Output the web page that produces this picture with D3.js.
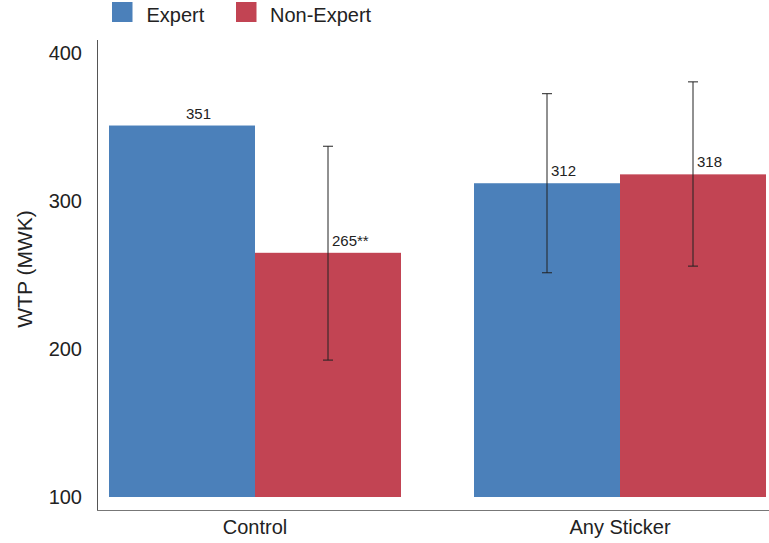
<!DOCTYPE html>
<html><head><meta charset="utf-8">
<script src="https://cdn.jsdelivr.net/npm/d3@7"></script>
<style>body{margin:0;background:#fff}svg{display:block;font-family:"Liberation Sans",Arial,sans-serif}</style>
</head><body><svg id="c" width="769" height="543"></svg>
<script>
const categories = ["Control", "Any Sticker"];
const groups = ["Expert", "Non-Expert"];
const expertMeans = [351, 312];
const nonExpertMeans = [265, 318];
const expertLow = [null, 251.5];
const expertHigh = [null, 372.5];
const nonExpertLow = [192.5, 256];
const nonExpertHigh = [337, 380.5];
const valueLabels = [["351", "312"], ["265**", "318"]];
const yTicks = [100, 200, 300, 400];
const colors = ["#4b80ba", "#c24453"];

const svg = d3.select("#c");
const y = d3.scaleLinear().domain([100, 400]).range([497, 53]);
const x0 = d3.scaleBand().domain(categories).range([72.5, 802.5]).paddingInner(0.2).paddingOuter(0.1);
const x1 = d3.scaleBand().domain(groups).range([0, x0.bandwidth()]);

const data = [];
categories.forEach((c, i) => {
  data.push({c, g: groups[0], v: expertMeans[i], lo: expertLow[i], hi: expertHigh[i], lab: valueLabels[0][i]});
  data.push({c, g: groups[1], v: nonExpertMeans[i], lo: nonExpertLow[i], hi: nonExpertHigh[i], lab: valueLabels[1][i]});
});

// axes lines
svg.append("line").attr("x1", 97.5).attr("x2", 97.5).attr("y1", 40).attr("y2", 510.5).attr("stroke", "#555").attr("stroke-width", 1);
svg.append("line").attr("x1", 97).attr("x2", 769).attr("y1", 510.5).attr("y2", 510.5).attr("stroke", "#777").attr("stroke-width", 1.2);

// y tick labels
const yAxis = d3.axisLeft(y).tickValues(yTicks).tickSize(0).tickPadding(0);
const ga = svg.append("g").attr("transform", "translate(82,0)").call(yAxis);
ga.select(".domain").remove();
ga.selectAll("text").attr("font-size", 20).attr("fill", "#222").attr("font-family", "Liberation Sans, Arial, sans-serif");

// y label
svg.append("text").attr("transform", "translate(32,269) rotate(-90)").attr("text-anchor", "middle")
  .attr("font-size", 21).attr("fill", "#222").text("WTP (MWK)");

// x category labels
const xAxis = d3.axisBottom(x0).tickSize(0).tickPadding(0);
const gx = svg.append("g").attr("transform", "translate(0,519.5)").call(xAxis);
gx.select(".domain").remove();
gx.selectAll("text").attr("font-size", 20).attr("fill", "#222").attr("font-family", "Liberation Sans, Arial, sans-serif");

// bars
svg.append("g").selectAll("rect").data(data).join("rect")
  .attr("x", d => x0(d.c) + x1(d.g))
  .attr("width", x1.bandwidth())
  .attr("y", d => y(d.v))
  .attr("height", d => y(100) - y(d.v))
  .attr("fill", d => colors[groups.indexOf(d.g)]);

// error bars
const eb = data.filter(d => d.lo != null);
const cx = d => x0(d.c) + x1(d.g) + x1.bandwidth() / 2;
const ge = svg.append("g").attr("stroke", "#222").attr("stroke-width", 1);
ge.selectAll(".v").data(eb).join("line").attr("x1", cx).attr("x2", cx).attr("y1", d => y(d.lo)).attr("y2", d => y(d.hi));
ge.selectAll(".t").data(eb).join("line").attr("x1", d => cx(d) - 5).attr("x2", d => cx(d) + 5).attr("y1", d => y(d.hi)).attr("y2", d => y(d.hi));
ge.selectAll(".b").data(eb).join("line").attr("x1", d => cx(d) - 5).attr("x2", d => cx(d) + 5).attr("y1", d => y(d.lo)).attr("y2", d => y(d.lo));

// value labels
svg.append("g").selectAll("text").data(data).join("text")
  .attr("x", d => cx(d) + 4).attr("y", d => y(d.v) - 7)
  .attr("font-size", 15).attr("fill", "#222").text(d => d.lab);

// legend
const lg = svg.append("g");
const lx = [112, 236];
const tx = [146.5, 270];
groups.forEach((g, i) => {
  lg.append("rect").attr("x", lx[i]).attr("y", 2).attr("width", 20.5).attr("height", 20).attr("fill", colors[i]);
  lg.append("text").attr("x", tx[i]).attr("y", 21.5).attr("font-size", 20).attr("fill", "#222").text(g);
});
</script></body></html>
